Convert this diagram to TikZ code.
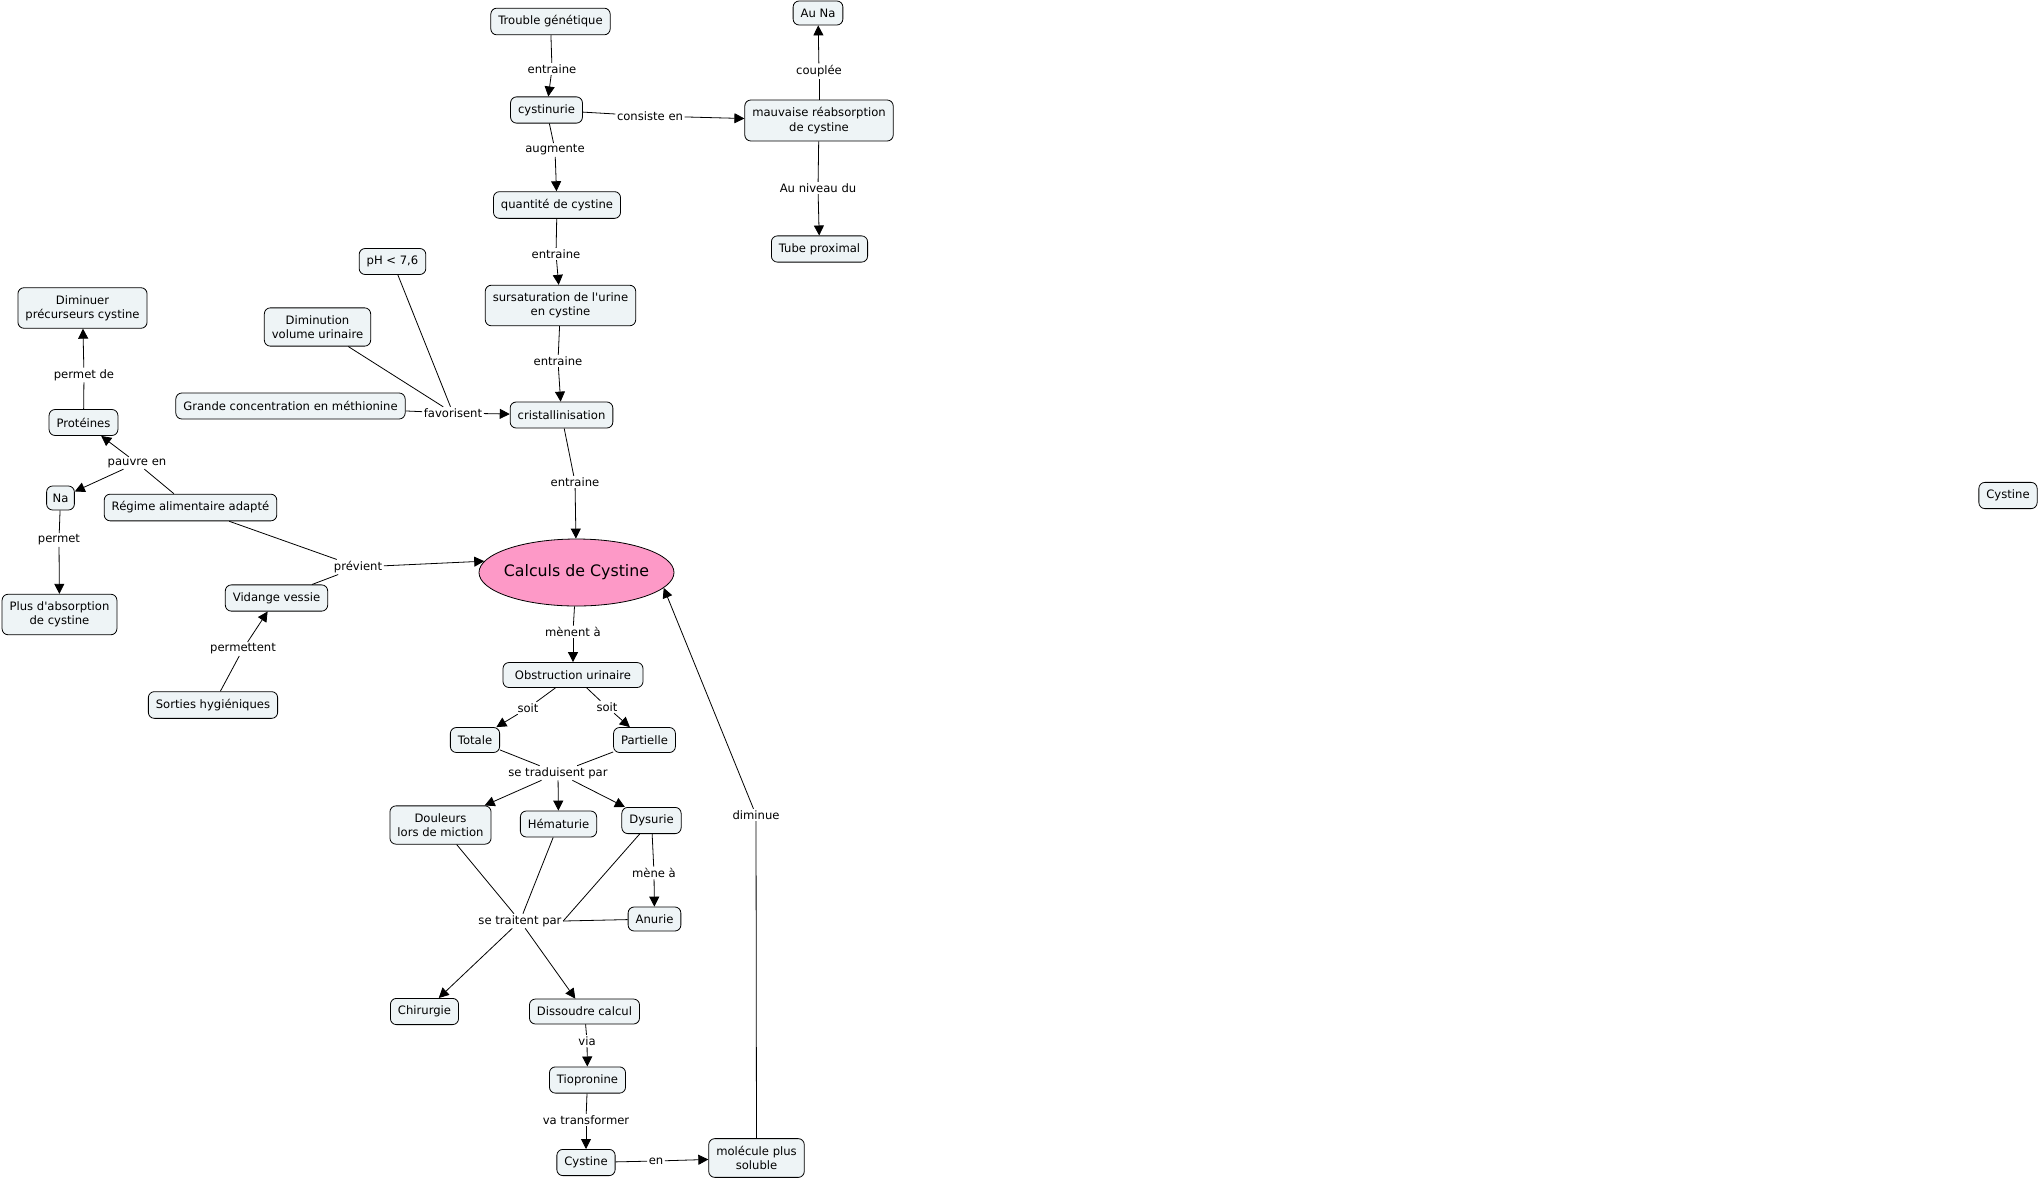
\documentclass[tikz,border=0pt]{standalone}
\usepackage{fontspec}
\setmainfont{DejaVu Sans}[Ligatures=TeXOff]
\usetikzlibrary{arrows.meta,shapes.geometric}
\definecolor{cfill}{RGB}{238,244,246}
\definecolor{pinkfill}{RGB}{253,153,199}
\tikzset{
  cpt/.style={draw=black, line width=0.8pt, fill=cfill, rounded corners=6pt,
    font=\fontsize{11.6}{14.3}\selectfont, align=center, inner xsep=7.5pt, inner ysep=7.5pt,
    minimum height=26pt},
  lbl/.style={font=\fontsize{11.6}{14.3}\selectfont, inner sep=1.5pt},
  lk/.style={draw=black, line width=0.8pt},
  ar/.style={draw=black, line width=0.8pt, -{Triangle[length=10pt,width=10pt]}},
}
\begin{document}
\begin{tikzpicture}[x=1pt,y=-1pt]
\useasboundingbox (0,0) rectangle (2041,1181);
% concepts
\node[cpt] (trouble) at (550.5,21.5) {Trouble génétique};
\node[cpt] (cyst) at (546.5,110) {cystinurie};
\node[cpt] (mauv) at (819,120.5) {mauvaise réabsorption\\de cystine};
\node[cpt, minimum height=24pt] (auna) at (818,13) {Au Na};
\node[cpt] (tube) at (819.5,249) {Tube proximal};
\node[cpt] (quant) at (557,205) {quantité de cystine};
\node[cpt] (sursat) at (560.5,305.5) {sursaturation de l'urine\\en cystine};
\node[cpt] (crist) at (561.5,415) {cristallinisation};
\node[cpt] (ph) at (392.5,261.5) {pH < 7,6};
\node[cpt] (dimvol) at (317.5,327) {Diminution\\volume urinaire};
\node[cpt] (grande) at (290.5,406) {Grande concentration en méthionine};
\node[draw=black, line width=0.8pt, fill=pinkfill, ellipse, inner sep=0pt,
  minimum width=195pt, minimum height=67pt,
  font=\fontsize{15.8}{18}\selectfont] (calc) at (576.5,572.5) {\makebox[0pt]{Calculs de Cystine}};
\node[cpt] (dimin) at (82.5,308) {Diminuer\\précurseurs cystine};
\node[cpt] (prot) at (83.5,422.5) {Protéines};
\node[cpt, minimum height=24pt, inner xsep=6pt] (na) at (60.5,498) {Na};
\node[cpt] (regime) at (190.5,507.5) {Régime alimentaire adapté};
\node[cpt] (plus) at (59.5,614.5) {Plus d'absorption\\de cystine};
\node[cpt] (vid) at (276.5,598) {Vidange vessie};
\node[cpt] (sort) at (213,705) {Sorties hygiéniques};
\node[cpt, minimum width=140pt, minimum height=25pt] (obst) at (573,675) {Obstruction urinaire};
\node[cpt, minimum height=25pt] (tot) at (475,740) {Totale};
\node[cpt, minimum height=25pt] (part) at (644.5,740) {Partielle};
\node[cpt] (doul) at (440.5,825) {Douleurs\\lors de miction};
\node[cpt] (hema) at (558.5,824) {Hématurie};
\node[cpt] (dys) at (651.5,820.5) {Dysurie};
\node[cpt, minimum height=24pt] (anu) at (654.5,919) {Anurie};
\node[cpt] (chir) at (424.5,1011.5) {Chirurgie};
\node[cpt, minimum height=25pt] (diss) at (584.5,1011.5) {Dissoudre calcul};
\node[cpt] (tiop) at (587.5,1080) {Tiopronine};
\node[cpt] (cys2) at (586,1162.5) {Cystine};
\node[cpt] (mol) at (756.5,1158) {molécule plus\\soluble};
\node[cpt] (cys3) at (2008,495.5) {Cystine};
% link labels
\node[lbl] (l1) at (552,69) {entraine};
\node[lbl] (l2) at (555,150) {augmente};
\node[lbl] (l3) at (650,116) {consiste en};
\node[lbl] (l4) at (819,71) {couplée};
\node[lbl] (l5) at (818,188) {Au niveau du};
\node[lbl] (l6) at (556,254) {entraine};
\node[lbl] (l7) at (558,361) {entraine};
\node[lbl] (l8) at (453,413) {favorisent};
\node[lbl] (l9) at (575,482) {entraine};
\node[lbl] (l10) at (84,375) {permet de};
\node[lbl] (l11) at (137,463) {pauvre en};
\node[lbl] (l12) at (59,540) {permet};
\node[lbl] (l13) at (358,567) {prévient};
\node[lbl] (l14) at (243,649) {permettent};
\node[lbl] (l15) at (573,632) {mènent à};
\node[lbl] (l16) at (528,708) {soit};
\node[lbl] (l17) at (607,707) {soit};
\node[lbl] (l18) at (558,773) {se traduisent par};
\node[lbl] (l19) at (654,873) {mène à};
\node[lbl] (l20) at (520,921) {se traitent par};
\node[lbl] (l21) at (587,1041) {via};
\node[lbl] (l22) at (586,1120) {va transformer};
\node[lbl] (l23) at (656,1161) {en};
\node[lbl] (l24) at (756,815) {diminue};
% connectors
\draw[lk] (trouble) -- (l1); \draw[ar] (l1) -- (cyst);
\draw[lk] (cyst) -- (l2); \draw[ar] (l2) -- (quant);
\draw[lk] (cyst) -- (l3); \draw[ar] (l3) -- (mauv);
\draw[lk] (mauv) -- (l4); \draw[ar] (l4) -- (auna);
\draw[lk] (mauv) -- (l5); \draw[ar] (l5) -- (tube);
\draw[lk] (quant) -- (l6); \draw[ar] (l6) -- (sursat);
\draw[lk] (sursat) -- (l7); \draw[ar] (l7) -- (crist);
\draw[lk] (ph) -- (l8); \draw[lk] (dimvol) -- (l8); \draw[lk] (grande) -- (l8);
\draw[ar] (l8) -- (crist);
\draw[lk] (crist) -- (l9); \draw[ar] (l9) -- (calc);
\draw[lk] (prot) -- (l10); \draw[ar] (l10) -- (dimin);
\draw[lk] (regime) -- (l11); \draw[ar] (l11) -- (prot); \draw[ar] (l11) -- (na);
\draw[lk] (na) -- (l12); \draw[ar] (l12) -- (plus);
\draw[lk] (regime) -- (l13); \draw[lk] (vid) -- (l13); \draw[ar] (l13) -- (calc.173);
\draw[lk] (sort) -- (l14); \draw[ar] (l14) -- (vid);
\draw[lk] (calc) -- (l15); \draw[ar] (l15) -- (obst);
\draw[lk] (obst) -- (l16); \draw[ar] (l16) -- (tot);
\draw[lk] (obst) -- (l17); \draw[ar] (l17) -- (part);
\draw[lk] (tot) -- (l18); \draw[lk] (part) -- (l18);
\draw[ar] (l18) -- (doul); \draw[ar] (l18) -- (hema); \draw[ar] (l18) -- (dys);
\draw[lk] (dys) -- (l19); \draw[ar] (l19) -- (anu);
\draw[lk] (doul) -- (l20); \draw[lk] (hema) -- (l20);
\draw[lk] (dys) -- (l20.east); \draw[lk] (anu) -- (l20.east);
\draw[ar] (l20) -- (chir); \draw[ar] (l20) -- (diss);
\draw[lk] (diss) -- (l21); \draw[ar] (l21) -- (tiop);
\draw[lk] (tiop) -- (l22); \draw[ar] (l22) -- (cys2);
\draw[lk] (cys2) -- (l23); \draw[ar] (l23) -- (mol);
\draw[lk] (mol) -- (l24); \draw[ar] (l24) -- (calc.-10);
\end{tikzpicture}
\end{document}
